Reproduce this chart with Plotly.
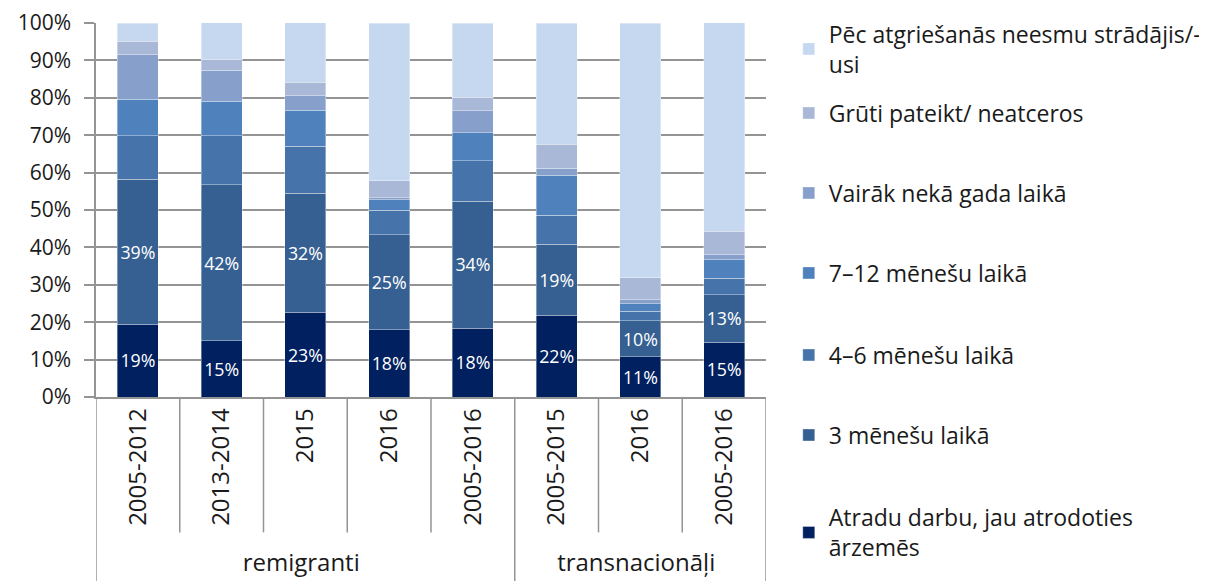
import plotly.graph_objects as go

groups = ["remigranti"] * 5 + ["transnacionāļi"] * 3
periods = ["2005-2012", "2013-2014", "2015", "2016", "2005-2016", "2005-2015", "2016", "2005-2016"]

atradu = [19.4, 15.1, 22.6, 18.0, 18.4, 21.8, 10.7, 14.6]
m3 = [38.8, 41.6, 31.9, 25.4, 34.0, 19.0, 9.7, 12.8]
m4_6 = [11.7, 13.2, 12.5, 6.6, 10.8, 7.8, 2.5, 4.3]
m7_12 = [9.7, 9.2, 9.7, 2.8, 7.4, 10.7, 2.0, 5.0]
vairak = [11.9, 8.3, 3.9, 0.5, 5.9, 1.8, 1.1, 1.3]
gruti = [3.6, 2.9, 3.6, 4.5, 3.6, 6.5, 5.9, 6.3]
pec = [4.9, 9.8, 15.9, 42.2, 19.8, 32.4, 68.1, 55.9]

series = [
    ("Atradu darbu, jau atrodoties<br>ārzemēs", atradu, "#002060", True),
    ("3 mēnešu laikā", m3, "#376092", True),
    ("4–6 mēnešu laikā", m4_6, "#4674AA", False),
    ("7–12 mēnešu laikā", m7_12, "#4F81BD", False),
    ("Vairāk nekā gada laikā", vairak, "#86A0CB", False),
    ("Grūti pateikt/ neatceros", gruti, "#A9B8D6", False),
    ("Pēc atgriešanās neesmu strādājis/-<br>usi", pec, "#C6D8EF", False),
]

# order in which points are handed to plotly so that the multicategory axis
# keeps the original category order inside each group
feed = [0, 1, 5, 2, 3, 4, 6, 7]

FONT = "Open Sans"
TXT = "#1a1a1a"
GRID = "#949494"
fig = go.Figure()
legend_y = [-0.3623, -0.1016, 0.1123, 0.3316, 0.5455, 0.7594, 0.9305]
for i, (name, vals, color, lab) in enumerate(series):
    lname = f"legend{i+2}"
    fig.add_trace(go.Bar(
        x=[[groups[k] for k in feed], [periods[k] for k in feed]],
        y=[vals[k] for k in feed], name=name, marker_color=color,
        marker_line_width=0.8, marker_line_color="rgba(255,255,255,0.45)",
        text=[f"{round(vals[k])}%" for k in feed] if lab else None,
        textposition="inside" if lab else "none",
        insidetextanchor="middle", textangle=0,
        textfont=dict(color="white", size=21, family=FONT),
        legend=lname,
    ))
    fig.update_layout({lname: dict(
        x=1.034, xanchor="left", y=legend_y[i], yanchor="middle",
        font=dict(size=23, family=FONT, color=TXT), bgcolor="rgba(0,0,0,0)",
    )})

# separators between the categories (upper label row) and group dividers
shapes = []
for b in [0.5, 1.5, 2.5, 3.5, 5.5, 6.5]:
    shapes.append(dict(type="line", xref="x", yref="paper", x0=b, x1=b, y0=0, y1=-0.362,
                       line=dict(color=GRID, width=1.5)))
for b in [-0.5, 4.5, 7.5]:
    shapes.append(dict(type="line", xref="x", yref="paper", x0=b, x1=b, y0=0, y1=-0.5,
                       line=dict(color=GRID, width=1.5)))

fig.update_layout(
    barmode="stack", bargap=0.51,
    width=1199, height=573,
    margin=dict(l=88, r=441, t=15, b=184, autoexpand=False),
    plot_bgcolor="white", paper_bgcolor="white",
    font=dict(family=FONT, size=22, color=TXT),
    uniformtext=dict(minsize=10, mode="show"),
    shapes=shapes,
    xaxis=dict(
        type="multicategory", tickangle=-90, showline=True, linecolor=GRID, linewidth=1.5,
        showdividers=False, range=[-0.5, 7.5], automargin=False,
        tickfont=dict(size=24, family=FONT, color=TXT),
    ),
    yaxis=dict(
        range=[0, 100], tickvals=list(range(0, 101, 10)), ticktext=[f"{v}%" for v in range(0, 101, 10)],
        showgrid=True, gridcolor=GRID, gridwidth=1.5, showline=True, linecolor=GRID, linewidth=1.5,
        ticks="outside", ticklen=10, tickcolor=GRID, tickwidth=1.5, zeroline=False,
        ticklabelstandoff=9, automargin=False, ticklabeloverflow="allow",
        tickfont=dict(size=21, family=FONT, color=TXT),
    ),
)
fig.write_html("out.html")
